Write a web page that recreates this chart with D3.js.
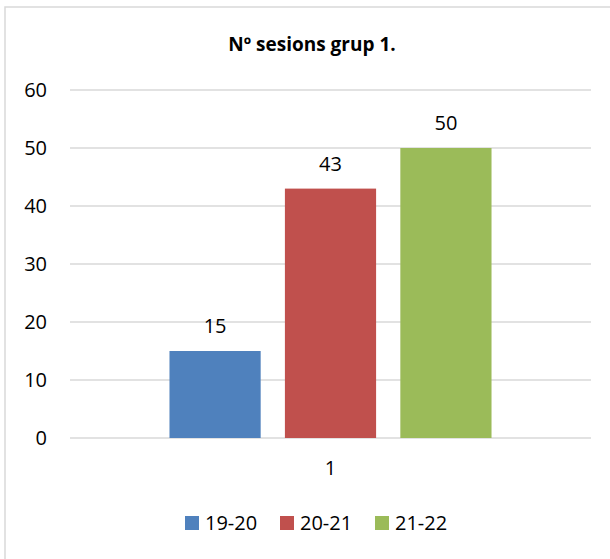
<!DOCTYPE html>
<html>
<head>
<meta charset="utf-8">
<script src="https://cdn.jsdelivr.net/npm/d3@7"></script>
<style>
  body { margin: 0; background: #fff; }
  text { font-family: "Open Sans", sans-serif; fill: #000; }
</style>
</head>
<body>
<div id="chart"></div>
<script>
// data
var categories = ["1"];
var seriesNames = ["19-20", "20-21", "21-22"];
var seriesValues = [15, 43, 50];
var seriesColors = ["#4F81BD", "#C0504D", "#9BBB59"];
var yTicks = [0, 10, 20, 30, 40, 50, 60];
var title = "Nº sesions grup 1.";

var width = 610, height = 559;
var margin = {"left": 70, "right": 19, "top": 90, "bottom": 121};

var svg = d3.select("#chart")
  .append("svg")
    .attr("width", width)
    .attr("height", height);

// chart border
svg.append("rect")
  .attr("x", 5).attr("y", 7)
  .attr("width", 620).attr("height", 570)
  .attr("fill", "none")
  .attr("stroke", "#d9d9d9")
  .attr("stroke-width", 1.5);

var g = svg.append("g")
  .attr("transform", "translate(" + margin.left + "," + margin.top + ")");

var w = width - margin.left - margin.right,
    h = height - margin.top - margin.bottom;

// scales
var y = d3.scaleLinear().domain([0, 60]).range([h, 0]);
var x0 = d3.scaleBand().domain(categories).range([0, w]).padding(0.236);
var x1 = d3.scaleBand().domain(seriesNames).range([0, x0.bandwidth()]).paddingInner(0.21);
var color = d3.scaleOrdinal().domain(seriesNames).range(seriesColors);

// gridlines
g.append("g")
  .selectAll("line")
  .data(yTicks)
  .enter()
  .append("line")
    .attr("x1", 0).attr("x2", w)
    .attr("y1", function(d) { return y(d); })
    .attr("y2", function(d) { return y(d); })
    .attr("stroke", "#d9d9d9")
    .attr("stroke-width", 1.5);

// y axis labels
var yAxis = g.append("g")
  .call(d3.axisLeft(y).tickValues(yTicks).tickSize(0).tickPadding(23));
yAxis.select(".domain").remove();
yAxis.selectAll("text")
  .attr("font-family", "Open Sans")
  .attr("font-size", "20px")
  .attr("fill", "#000");

// x axis label
var xAxis = g.append("g")
  .attr("transform", "translate(0," + h + ")")
  .call(d3.axisBottom(x0).tickSize(0).tickPadding(23));
xAxis.select(".domain").remove();
xAxis.selectAll("text")
  .attr("font-family", "Open Sans")
  .attr("font-size", "20px")
  .attr("fill", "#000");

// bars
var data = seriesNames.map(function(s, i) { return {"cat": categories[0], "name": s, "value": seriesValues[i]}; });

var groups = g.append("g")
  .selectAll("g")
  .data(data)
  .enter()
  .append("g")
    .attr("transform", function(d) { return "translate(" + x0(d.cat) + ",0)"; });

groups.append("rect")
  .attr("x", function(d) { return x1(d.name); })
  .attr("y", function(d) { return y(d.value); })
  .attr("width", x1.bandwidth())
  .attr("height", function(d) { return h - y(d.value); })
  .attr("fill", function(d) { return color(d.name); });

groups.append("text")
  .attr("x", function(d) { return x1(d.name) + x1.bandwidth() / 2; })
  .attr("y", function(d) { return y(d.value) - 18; })
  .attr("text-anchor", "middle")
  .attr("font-size", "20px")
  .text(function(d) { return d.value; });

// title
svg.append("text")
  .attr("x", 312)
  .attr("y", 51)
  .attr("text-anchor", "middle")
  .attr("font-size", "19px")
  .attr("font-weight", "bold")
  .text(title);

// legend
var legend = svg.append("g")
  .selectAll("g")
  .data(seriesNames)
  .enter()
  .append("g")
    .attr("transform", function(d, i) { return "translate(" + (185 + i * 95) + ",516)"; });

legend.append("rect")
  .attr("width", 14).attr("height", 14)
  .attr("fill", function(d) { return color(d); });

legend.append("text")
  .attr("x", 20)
  .attr("y", 14)
  .attr("font-size", "20px")
  .text(function(d) { return d; });
</script>
</body>
</html>
